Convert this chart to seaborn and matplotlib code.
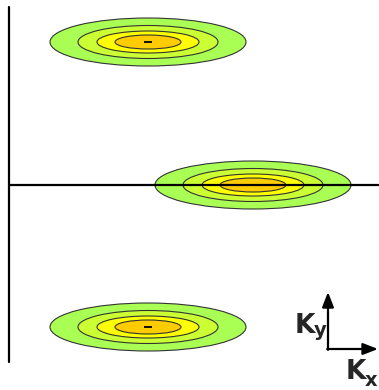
import matplotlib
matplotlib.use("Agg")
import matplotlib.pyplot as plt
from matplotlib.patches import Ellipse
import seaborn as sns
import pandas as pd

sns.set_style("white")
plt.rcParams['font.family'] = ['DejaVu Sans']

# Peak centres (k-space units, origin at axis crossing)
peak_kx = [139, 244, 139]
peak_ky = [143, 0, -142]
# Contour rings, outermost first
ring_halfwidth = [98, 70, 51, 33]
ring_halfheight = [24, 16.5, 11, 7]
ring_colors = ["#aaff55", "#ccff33", "#ffff00", "#ffcc00"]

fig = plt.figure(figsize=(3.79, 3.90), dpi=100)
ax = fig.add_axes([0, 0, 1, 1])
ax.set_xlim(-9, 370)
ax.set_ylim(-205, 185)
ax.axis("off")

for cx, cy in zip(peak_kx, peak_ky):
    for hw, hh, col in zip(ring_halfwidth, ring_halfheight, ring_colors):
        ax.add_patch(Ellipse((cx, cy), 2 * hw, 2 * hh, facecolor=col,
                             edgecolor="#333333", linewidth=0.8, zorder=2))

df = pd.DataFrame({"kx": peak_kx, "ky": peak_ky})
sns.scatterplot(data=df, x="kx", y="ky", marker="_", s=40, color="black",
                linewidth=1.3, ax=ax, zorder=3, legend=False)

# main axes
ax.plot([0, 0], [178, -177], color="black", linewidth=1.6, zorder=4)
ax.plot([0, 370], [0, 0], color="black", linewidth=1.6, zorder=4)

# small Kx / Ky direction indicator
ox, oy = 319, -164
ax.annotate("", xy=(ox, -107), xytext=(ox, oy - 0.8),
            arrowprops=dict(arrowstyle="-|>,head_length=0.9,head_width=0.35",
                            color="black", lw=1.6, shrinkA=0, shrinkB=0))
ax.annotate("", xy=(369, oy), xytext=(ox - 0.8, oy),
            arrowprops=dict(arrowstyle="-|>,head_length=0.9,head_width=0.35",
                            color="black", lw=1.6, shrinkA=0, shrinkB=0))
ax.text(296, -148, "K", fontsize=19, fontweight="bold", ha="center", va="baseline")
ax.text(311.5, -151, "y", fontsize=14, fontweight="bold", ha="center", va="baseline")
ax.text(347, -194, "K", fontsize=19, fontweight="bold", ha="center", va="baseline")
ax.text(362, -200.5, "x", fontsize=14, fontweight="bold", ha="center", va="baseline")

ax.set_xlabel("")
ax.set_ylabel("")
fig.savefig("out.png", dpi=100)
